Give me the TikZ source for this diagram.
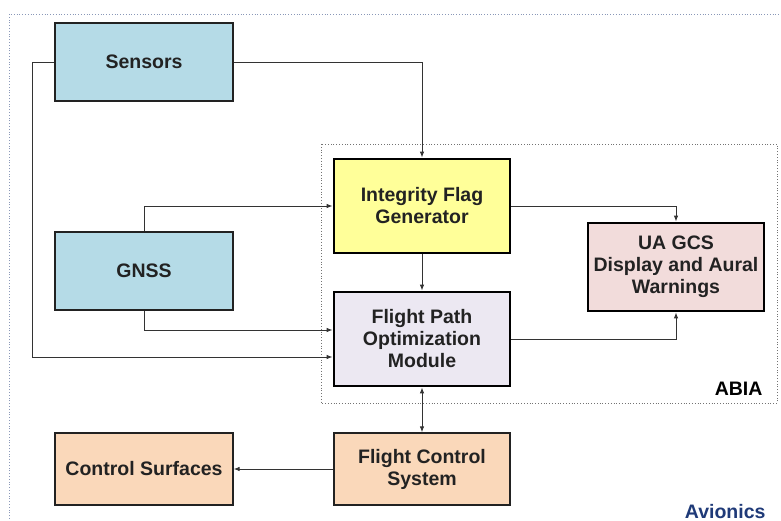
\documentclass[tikz,border=0pt]{standalone}
\usepackage{fontspec}
\setmainfont{Liberation Sans}
\usetikzlibrary{arrows.meta}
\definecolor{txt}{HTML}{222222}
\definecolor{blu}{HTML}{B5DBE7}
\definecolor{yel}{HTML}{FFFF99}
\definecolor{lav}{HTML}{ECE8F2}
\definecolor{pnk}{HTML}{F2DCDB}
\definecolor{pch}{HTML}{FAD8BA}
\definecolor{navy}{HTML}{1F3A78}
\definecolor{frm}{HTML}{8A98B8}
\begin{document}
\begin{tikzpicture}[x=1pt,y=-1pt,
  box/.style={rectangle, draw=txt, text=txt, font=\fontsize{19.5}{22}\selectfont\bfseries, align=center, inner sep=0pt},
  thinbox/.style={box, line width=1.3pt},
  thickbox/.style={box, draw=black, line width=2.8pt},
  arr/.style={draw=black!80, line width=0.9pt, -{Latex[length=6pt,width=4.5pt]}},
  darr/.style={draw=black!80, line width=0.9pt, {Latex[length=6pt,width=4.5pt]}-{Latex[length=6pt,width=4.5pt]}}]
\useasboundingbox (0,0) rectangle (781,521);
\clip (0,0) rectangle (781,521);
\fill[white] (0,0) rectangle (781,521);
% outer frame
\draw[frm, dotted, line width=0.8pt] (9,530) -- (9,14) -- (795,14);
% ABIA frame
\draw[black!55, dotted, line width=0.8pt] (321,144) rectangle (777,403);
\node[anchor=base east, font=\fontsize{19.5}{22}\selectfont\bfseries] (abia) at (766,395) {ABIA};
\node[anchor=base east, text=navy, font=\fontsize{19.5}{22}\selectfont\bfseries] (avionics) at (769,518) {Avionics};
% boxes
\node[thinbox, fill=blu, minimum width=178pt, minimum height=78pt] (sensors) at (144,62) {Sensors};
\node[thinbox, fill=blu, minimum width=178pt, minimum height=78pt] (gnss) at (144,271) {GNSS};
\node[thickbox, fill=yel, minimum width=176pt, minimum height=94pt] (ifg) at (422,206) {Integrity Flag\\Generator};
\node[thickbox, fill=lav, minimum width=176pt, minimum height=94pt] (fpom) at (422,339) {Flight Path\\Optimization\\Module};
\node[thickbox, fill=pnk, minimum width=176pt, minimum height=88pt] (ua) at (676,267) {UA GCS\\Display and Aural\\Warnings};
\node[thinbox, fill=pch, minimum width=178pt, minimum height=72pt] (cs) at (144,469) {Control Surfaces};
\node[thinbox, fill=pch, minimum width=176pt, minimum height=72pt] (fcs) at (422,469) {Flight Control\\System};
% connectors
\coordinate (sl) at (32,62);
\draw[arr] (sensors.east) -| (ifg.north);
\draw[arr] (sensors.west) -- (sl) |- ([yshift=-18pt]fpom.west);
\draw[arr] (gnss.north) |- (ifg.west);
\draw[arr] (gnss.south) |- ([yshift=9pt]fpom.west);
\draw[arr] (ifg.south) -- (fpom.north);
\draw[arr] (ifg.east) -| (ua.north);
\draw[arr] (fpom.east) -| (ua.south);
\draw[darr] (fpom.south) -- (fcs.north);
\draw[arr] (fcs.west) -- (cs.east);
\end{tikzpicture}
\end{document}
